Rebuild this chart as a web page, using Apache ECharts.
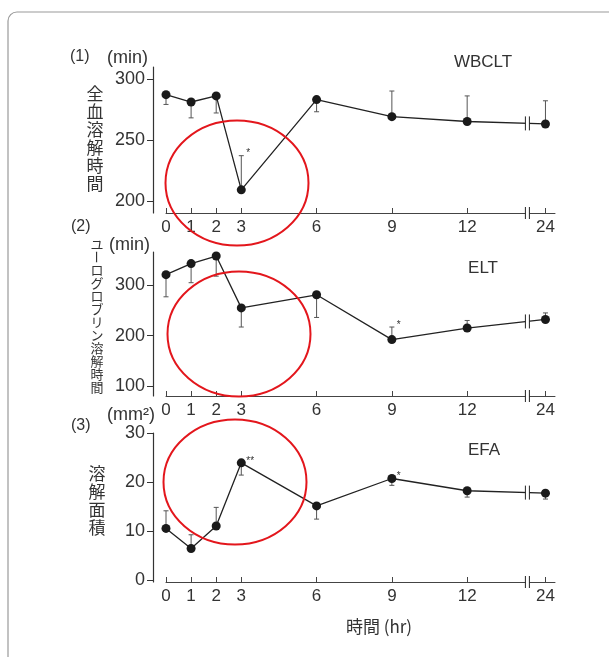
<!DOCTYPE html>
<html>
<head>
<meta charset="utf-8">
<style>
  html, body { margin: 0; padding: 0; background: #fff; }
  #chart { width: 609px; height: 657px; }
</style>
</head>
<body>
<div id="chart"></div>
<script src="https://cdn.jsdelivr.net/npm/echarts@6/dist/echarts.min.js"></script>
<script>
// 時間 (hr)
const hours = [0, 1, 2, 3, 6, 9, 12, 24]
// (1) WBCLT 全血溶解時間 (min) : 平均値 / エラーバー端
const wbcltMean = [287, 281, 286, 209, 283, 269, 265, 263]
const wbcltErr = [279, 268, 272, 237, 273, 290, 286, 282]
const wbcltSig = ['', '', '', '*', '', '', '', '']
// (2) ELT ユーログロブリン溶解時間 (min)
const eltMean = [321, 343, 358, 255, 281, 192, 215, 232]
const eltErr = [277, 305, 318, 217, 236, 217, 230, 245]
const eltSig = ['', '', '', '', '', '*', '', '']
// (3) EFA 溶解面積 (mm2)
const efaMean = [10.6, 6.5, 11.1, 24.0, 15.2, 20.8, 18.3, 17.8]
const efaErr = [14.2, 9.3, 14.9, 21.5, 12.5, 19.4, 17.0, 16.6]
const efaSig = ['', '', '', '**', '', '*', '', '']
// y軸の目盛
const wbcltTicks = [200, 250, 300]
const eltTicks = [100, 200, 300]
const efaTicks = [0, 10, 20, 30]

// 12hr以降は軸を省略（≠ 記号）
const breakPos = 14.4
const pos = h => (h <= 12 ? h : 12 + (h - 12) * 0.26)
const xTicks = hours.map(pos)
const xLabel = v => {
  const i = xTicks.findIndex(t => Math.abs(t - v) < 1e-6)
  return i >= 0 ? String(hours[i]) : ''
}

const ink = '#333'
const numFont = 'Liberation Sans'
const jpFont = 'Noto Sans CJK JP'

const chart = echarts.init(document.getElementById('chart'))

function xAx (gi) {
  return {
    type: 'value', gridIndex: gi, min: 0, max: 15.5,
    axisLine: { onZero: false, lineStyle: { color: '#444', width: 1 } },
    axisTick: { inside: true, length: 5, customValues: xTicks, lineStyle: { color: '#444' } },
    axisLabel: { customValues: xTicks, formatter: xLabel, fontSize: 17, color: ink, fontFamily: numFont, margin: 6 },
    splitLine: { show: false }
  }
}

function yAx (gi, min, max, ticks) {
  return {
    type: 'value', gridIndex: gi, min: min, max: max, offset: 13,
    axisLine: { show: true, onZero: false, lineStyle: { color: ink, width: 1.2 } },
    axisTick: { show: true, length: 6, customValues: ticks, lineStyle: { color: ink } },
    axisLabel: { customValues: ticks, fontSize: 18, color: ink, fontFamily: numFont, margin: 8 },
    splitLine: { show: false }
  }
}

// 平均値の折れ線
function lineSeries (gi, mean) {
  return {
    type: 'line', xAxisIndex: gi, yAxisIndex: gi, z: 3,
    data: hours.map((h, i) => [pos(h), mean[i]]),
    symbol: 'circle', symbolSize: 9,
    lineStyle: { color: '#222', width: 1.3 },
    itemStyle: { color: '#1a1a1a' }
  }
}

// 片側のエラーバーと有意差の印
function errSeries (gi, mean, err, sig) {
  return {
    type: 'custom', xAxisIndex: gi, yAxisIndex: gi, z: 2,
    data: hours.map((h, i) => [pos(h), mean[i], err[i]]),
    renderItem: function (params, api) {
      const p = api.coord([api.value(0), api.value(1)])
      const e = api.coord([api.value(0), api.value(2)])
      const st = { stroke: '#555', lineWidth: 1 }
      const children = [
        { type: 'line', shape: { x1: p[0], y1: p[1], x2: e[0], y2: e[1] }, style: st },
        { type: 'line', shape: { x1: e[0] - 2.5, y1: e[1], x2: e[0] + 2.5, y2: e[1] }, style: st }
      ]
      const s = sig[params.dataIndex]
      if (s) {
        children.push({
          type: 'text',
          style: {
            text: s, x: p[0] + 5, y: Math.min(p[1], e[1]) - 2,
            fill: ink, fontSize: 10, fontFamily: numFont, align: 'left', verticalAlign: 'middle'
          }
        })
      }
      return { type: 'group', children: children }
    }
  }
}

// 折れ線と x 軸上の省略記号
function breakSeries (gi, mean) {
  const n = hours.length
  return {
    type: 'custom', xAxisIndex: gi, yAxisIndex: gi, z: 5,
    data: [[breakPos, mean[n - 1]]],
    renderItem: function (params, api) {
      const a = api.coord([pos(hours[n - 2]), mean[n - 2]])
      const b = api.coord([pos(hours[n - 1]), mean[n - 1]])
      const bx = api.coord([breakPos, mean[n - 1]])[0]
      const ly = a[1] + (b[1] - a[1]) * (bx - a[0]) / (b[0] - a[0])
      const ay = params.coordSys.y + params.coordSys.height
      const st = { stroke: '#222', lineWidth: 1 }
      const mark = (y, h) => [
        { type: 'rect', shape: { x: bx - 2, y: y - 3, width: 4, height: 6 }, style: { fill: '#fff' } },
        { type: 'line', shape: { x1: bx - 2, y1: y - h, x2: bx - 2, y2: y + h }, style: st },
        { type: 'line', shape: { x1: bx + 2, y1: y - h, x2: bx + 2, y2: y + h }, style: st }
      ]
      return { type: 'group', children: mark(ly, 7).concat(mark(ay, 6)) }
    }
  }
}

// 縦書きのラベル
function vText (str, x, y0, size, step) {
  return {
    type: 'group',
    children: Array.from(str).map((c, i) => ({
      type: 'text', x: x, y: y0 + i * step,
      rotation: c === 'ー' ? -Math.PI / 2 : 0,
      style: { text: c, fill: ink, fontSize: size, fontFamily: jpFont, align: 'center', verticalAlign: 'middle' }
    }))
  }
}

function txt (s, x, y, size, font, align) {
  return {
    type: 'text', x: x, y: y,
    style: { text: s, fill: ink, fontSize: size, fontFamily: font || numFont, align: align || 'left', verticalAlign: 'middle' }
  }
}

function ring (cx, cy) {
  return {
    type: 'ellipse', z: 100,
    shape: { cx: cx, cy: cy, rx: 71.5, ry: 62.5 },
    style: { fill: null, stroke: '#e3161c', lineWidth: 2 }
  }
}

chart.setOption({
  animation: false,
  backgroundColor: '#fff',
  grid: [
    { left: 166, width: 389, top: 67, height: 146 },
    { left: 166, width: 389, top: 252, height: 144 },
    { left: 166, width: 389, top: 433, height: 149 }
  ],
  xAxis: [xAx(0), xAx(1), xAx(2)],
  yAxis: [
    yAx(0, 190, 309.7, wbcltTicks),
    yAx(1, 80, 366, eltTicks),
    yAx(2, -0.35, 30.1, efaTicks)
  ],
  series: [
    lineSeries(0, wbcltMean), errSeries(0, wbcltMean, wbcltErr, wbcltSig), breakSeries(0, wbcltMean),
    lineSeries(1, eltMean), errSeries(1, eltMean, eltErr, eltSig), breakSeries(1, eltMean),
    lineSeries(2, efaMean), errSeries(2, efaMean, efaErr, efaSig), breakSeries(2, efaMean)
  ],
  graphic: [
    { type: 'rect', shape: { x: 8, y: 12, width: 640, height: 700, r: 9 }, style: { fill: null, stroke: '#9a9a9a', lineWidth: 1.2 } },
    txt('(1)', 70, 57, 16),
    txt('(min)', 107, 58, 18),
    txt('WBCLT', 483, 62, 17, numFont, 'center'),
    vText('全血溶解時間', 95, 94, 17, 18),
    txt('(2)', 71, 227, 16),
    txt('(min)', 109, 245, 18),
    txt('ELT', 483, 268, 17, numFont, 'center'),
    vText('ユーログロブリン溶解時間', 97, 244, 13, 13),
    txt('(3)', 71, 426, 16),
    txt('(mm²)', 107, 415, 18),
    txt('EFA', 484, 450, 17, numFont, 'center'),
    vText('溶解面積', 97, 474, 17, 18),
    txt('時間 (hr)', 379, 627, 17, jpFont, 'center'),
    ring(237, 183),
    ring(239, 334),
    ring(235, 482)
  ]
})
</script>
</body>
</html>
